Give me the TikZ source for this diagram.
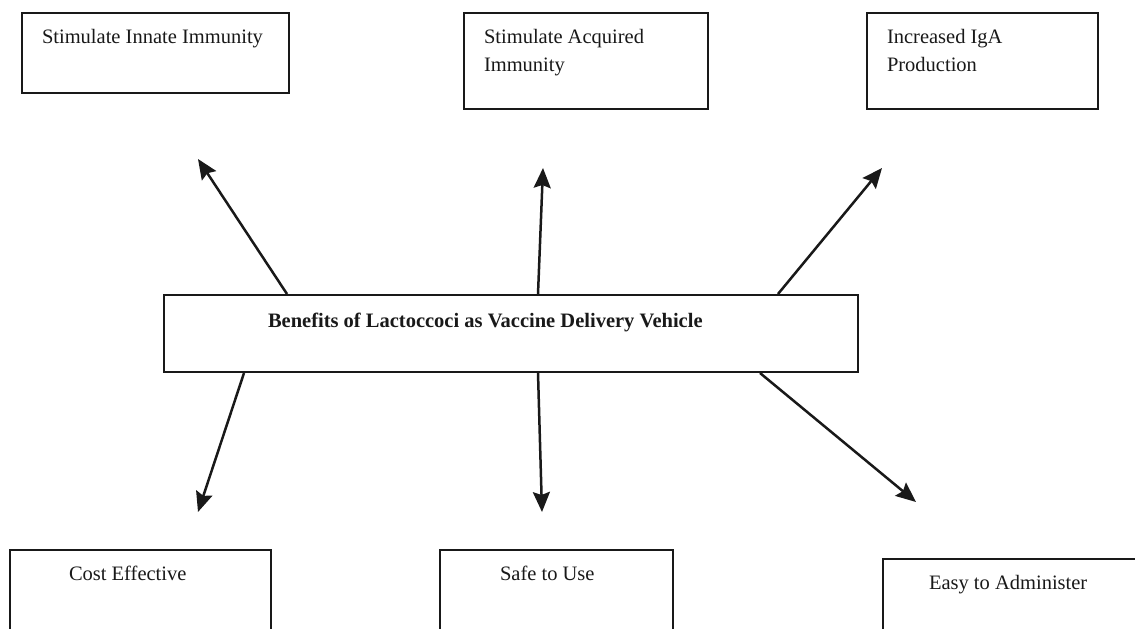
\documentclass[tikz,border=0pt]{standalone}
\usepackage{fontspec}
\setmainfont{Liberation Serif}
\usetikzlibrary{arrows.meta}

\begin{document}
\begin{tikzpicture}[x=1pt,y=-1pt,line width=2pt,>={Stealth[length=20pt,width=17pt,inset=3pt]}]
  \tikzstyle{box}=[draw=black!90,rectangle,anchor=north west,inner sep=0pt]
  \tikzstyle{txt}=[anchor=base west,inner sep=0pt,align=left,text=black!90,font=\fontsize{20.5}{28}\selectfont]
  \tikzstyle{link}=[->,draw=black!90,line width=2.5pt]
  \clip (0,0) rectangle (1135,629);

  % boxes
  \node [box,minimum width=267pt,minimum height=80pt] (innate) at (21,12) {};
  \node [box,minimum width=244pt,minimum height=96pt] (acquired) at (463,12) {};
  \node [box,minimum width=231pt,minimum height=96pt] (iga) at (866,12) {};
  \node [box,minimum width=694pt,minimum height=77pt] (ctr) at (163,294) {};
  \node [box,minimum width=261pt,minimum height=120pt] (cost) at (9,549) {};
  \node [box,minimum width=233pt,minimum height=120pt] (safe) at (439,549) {};
  \node [box,minimum width=300pt,minimum height=120pt] (easy) at (882,558) {};

  % labels (base = last line)
  \node [txt] (innatetxt) at ([shift={(20,31)}]innate.north west) {Stimulate Innate Immunity};
  \node [txt] (acquiredtxt) at ([shift={(20,59)}]acquired.north west) {Stimulate Acquired\\Immunity};
  \node [txt] (igatxt) at ([shift={(20,59)}]iga.north west) {Increased IgA\\Production};
  \node [txt,font=\fontsize{20.5}{28}\selectfont\bfseries] (ctrtxt) at ([shift={(104,33)}]ctr.north west) {Benefits of Lactoccoci as Vaccine Delivery Vehicle};
  \node [txt] (costtxt) at ([shift={(59,31)}]cost.north west) {Cost Effective};
  \node [txt] (safetxt) at ([shift={(60,31)}]safe.north west) {Safe to Use};
  \node [txt] (easytxt) at ([shift={(46,31)}]easy.north west) {Easy to Administer};

  % arrow tips
  \coordinate (tinnate) at (198,159);
  \coordinate (tacquired) at (543,168);
  \coordinate (tiga) at (882,168);
  \coordinate (tcost) at (198,512);
  \coordinate (tsafe) at (542,512);
  \coordinate (teasy) at (916,502);

  \draw [link] ([xshift=124pt]ctr.north west) -- (tinnate);
  \draw [link] ([xshift=375pt]ctr.north west) -- (tacquired);
  \draw [link] ([xshift=615pt]ctr.north west) -- (tiga);
  \draw [link] ([xshift=81pt]ctr.south west) -- (tcost);
  \draw [link] ([xshift=375pt]ctr.south west) -- (tsafe);
  \draw [link] ([xshift=597pt]ctr.south west) -- (teasy);
\end{tikzpicture}
\end{document}
